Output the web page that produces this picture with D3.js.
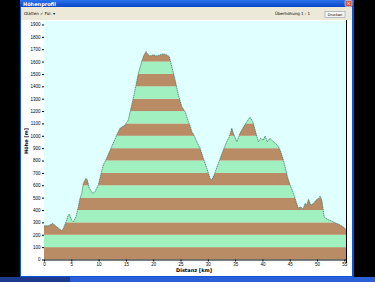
<!DOCTYPE html>
<html>
<head>
<meta charset="utf-8">
<script src="https://cdn.jsdelivr.net/npm/d3@7"></script>
<style>
  body { margin: 0; background: #000; }
  svg { display: block; font-family: "DejaVu Sans", sans-serif; }
</style>
</head>
<body>
<div class="container"></div>
<script>
// elevation profile
const distKm = [0, 0.79, 1.59, 2.33, 3.24, 3.54, 4.03, 4.45, 4.63, 5.07, 5.37, 5.86, 6.28, 6.6, 6.91,
  7.2, 7.69, 7.93, 8.3, 8.92, 9.34, 9.95, 10.39, 10.86, 11.36, 12.4, 13.32, 13.92, 14.84, 15.44,
  16.07, 16.67, 17.28, 17.9, 18.32, 18.69, 18.92, 19.42, 20.02, 20.65, 21.25, 21.86, 22.48, 22.95,
  23.39, 24.0, 24.6, 25.23, 25.83, 26.44, 26.75, 27.06, 27.35, 27.97, 28.58, 29.18, 29.81, 30.41,
  30.72, 31.14, 31.93, 32.84, 33.47, 33.94, 34.38, 34.68, 35.3, 35.9, 36.4, 37.13, 37.73, 38.23,
  38.65, 39.25, 39.69, 40.17, 40.48, 40.9, 41.39, 42.0, 42.74, 43.24, 43.73, 44.15, 44.57, 45.07,
  45.67, 46.17, 46.59, 47.03, 47.4, 47.82, 48.13, 48.42, 48.86, 49.34, 49.84, 50.25, 50.56, 50.87,
  51.3, 51.9, 52.71, 53.31, 53.92, 54.54, 55.14, 55.3];
const heightM = [272, 272, 291, 264, 232, 251, 304, 359, 367, 318, 304, 345, 426, 494, 534,
  615, 656, 642, 575, 534, 547, 602, 683, 764, 808, 912, 1006, 1061, 1087, 1128,
  1249, 1371, 1506, 1600, 1654, 1681, 1662, 1646, 1654, 1646, 1654, 1662, 1654, 1640,
  1560, 1452, 1330, 1236, 1195, 1114, 1080, 1033, 1015, 952, 899, 818, 737, 656,
  642, 683, 777, 885, 952, 993, 1061, 1020, 952, 1020, 1061, 1114, 1150, 1114,
  1047, 952, 980, 966, 998, 952, 980, 952, 925, 885, 818, 750, 669, 602,
  534, 466, 413, 426, 405, 453, 440, 486, 440, 453, 480, 494, 513, 480,
  345, 324, 310, 296, 286, 270, 251, 245];
const xTicks = [0, 5, 10, 15, 20, 25, 30, 35, 40, 45, 50, 55];
const yTicks = d3.range(0, 2000, 100);
const bandStep = 100;

const W = 375, H = 282;
const plot = { left: 44, right: 346, top: 21, bottom: 259.5 };

const svg = d3.select(".container").append("svg")
  .attr("width", W).attr("height", H).attr("viewBox", [0, 0, W, H]);

// window chrome
const grad = svg.append("defs").append("linearGradient").attr("id", "title").attr("x1", 0).attr("x2", 0).attr("y1", 0).attr("y2", 1);
grad.append("stop").attr("offset", 0).attr("stop-color", "#2a72ee");
grad.append("stop").attr("offset", 1).attr("stop-color", "#0846c4");
svg.append("rect").attr("x", 20).attr("y", 0).attr("width", 334).attr("height", 278).attr("fill", "#0b56d6");
svg.append("rect").attr("x", 20).attr("y", 0).attr("width", 334).attr("height", 7).attr("fill", "url(#title)");
svg.append("rect").attr("x", 21).attr("y", 7).attr("width", 331).attr("height", 269).attr("fill", "#ece9d8");
svg.append("rect").attr("x", 21).attr("y", 20).attr("width", 331).attr("height", 256).attr("fill", "#fff");
svg.append("text").attr("x", 23).attr("y", 5.5).attr("fill", "#fff").attr("font-size", 5).attr("font-weight", "bold").text("Höhenprofil");
svg.append("rect").attr("x", 345).attr("y", 0.5).attr("width", 7).attr("height", 6).attr("rx", 1).attr("fill", "#d8553a").attr("stroke", "#fff").attr("stroke-width", 0.5);
svg.append("text").attr("x", 348.5).attr("y", 5.3).attr("text-anchor", "middle").attr("fill", "#fff").attr("font-size", 5).text("×");
svg.append("text").attr("x", 24).attr("y", 15).attr("font-size", 4).attr("fill", "#000").text("Glätten ✓  Fül. ▾");
svg.append("text").attr("x", 310).attr("y", 15).attr("text-anchor", "end").attr("font-size", 4).attr("fill", "#000").text("Überhöhung  1 : 1");
svg.append("rect").attr("x", 325).attr("y", 11.5).attr("width", 20).attr("height", 6).attr("fill", "#f6f5ef").attr("stroke", "#7a8aa8").attr("stroke-width", 0.5);
svg.append("text").attr("x", 335).attr("y", 16).attr("text-anchor", "middle").attr("font-size", 3.5).text("Drucken");
// taskbar
svg.append("rect").attr("x", 0).attr("y", 277).attr("width", W).attr("height", 5).attr("fill", "#2a5fd8");
svg.append("rect").attr("x", 0).attr("y", 277).attr("width", 70).attr("height", 5).attr("fill", "#1b3a8e");

const x = d3.scaleLinear().domain([0, 55.3]).range([plot.left, plot.right]);
const y = d3.scaleLinear().domain([0, 1928]).range([plot.bottom, plot.top]);

svg.append("rect").attr("x", plot.left).attr("y", plot.top)
  .attr("width", plot.right - plot.left).attr("height", plot.bottom - plot.top).attr("fill", "#e0ffff");

const pts = distKm.map((d, i) => [d, heightM[i]]);
const area = d3.area().x((d) => x(d[0])).y0(y(0)).y1((d) => y(d[1]));
const line = d3.line().x((d) => x(d[0])).y((d) => y(d[1]));

svg.append("clipPath").attr("id", "prof").append("path").attr("d", area(pts));

// alternating elevation bands
svg.append("g").attr("clip-path", "url(#prof)")
  .selectAll("rect")
  .data(yTicks)
  .join("rect")
  .attr("x", plot.left)
  .attr("width", plot.right - plot.left)
  .attr("y", (d) => y(d + bandStep))
  .attr("height", (d) => y(d) - y(d + bandStep))
  .attr("fill", (d, i) => (i % 2 === 0 ? "#b98c66" : "#a0f0c0"));

svg.append("path").attr("d", line(pts)).attr("fill", "none")
  .attr("stroke", "#2e6a58").attr("stroke-width", 0.7).attr("stroke-dasharray", "1.5 0.6");

// axes
svg.append("g")
  .attr("transform", `translate(0,${plot.bottom})`)
  .call(d3.axisBottom(x).tickValues(xTicks).tickSize(2).tickSizeOuter(0).tickPadding(1))
  .call((g) => g.selectAll("text").attr("font-size", 4.5).attr("fill", "#000"))
  .call((g) => g.select(".domain").attr("stroke-width", 1));

svg.append("g")
  .attr("transform", `translate(${plot.left},0)`)
  .call(d3.axisLeft(y).tickValues(yTicks).tickFormat(d3.format("d")).tickSize(2).tickSizeOuter(0).tickPadding(1.5))
  .call((g) => g.selectAll("text").attr("font-size", 4.5).attr("fill", "#000"))
  .call((g) => g.select(".domain").remove());

svg.append("line").attr("x1", plot.right + 0.5).attr("x2", plot.right + 0.5)
  .attr("y1", plot.top - 1).attr("y2", 263).attr("stroke", "#000").attr("stroke-width", 1);

svg.append("text").attr("x", 194).attr("y", 272).attr("text-anchor", "middle")
  .attr("font-size", 5).attr("font-weight", "bold").text("Distanz [km]");
svg.append("text").attr("transform", "translate(28,141) rotate(-90)").attr("text-anchor", "middle")
  .attr("font-size", 5).attr("font-weight", "bold").text("Höhe [m]");
</script>
</body>
</html>
